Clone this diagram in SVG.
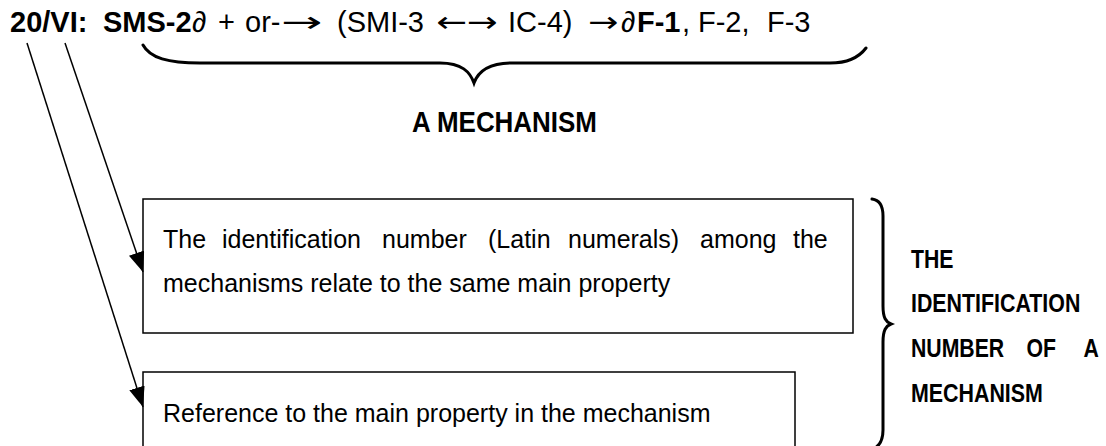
<svg xmlns="http://www.w3.org/2000/svg" width="1106" height="446" viewBox="0 0 1106 446">
<style>
.t{font-family:"Liberation Sans",Arial,sans-serif;fill:#000}
.ar{font-family:"DejaVu Sans",sans-serif;fill:#000;font-size:29px}
.b{font-weight:bold}
.box{fill:#fff;stroke:#000;stroke-width:1.5}
.br{fill:none;stroke:#000;stroke-width:3;stroke-linecap:round}
.ln{fill:none;stroke:#000;stroke-width:1.5}
</style>
<defs>
<marker id="ah" markerUnits="userSpaceOnUse" markerWidth="22" markerHeight="18" refX="20" refY="8" orient="auto">
<path d="M0,0 L20,8 L0,16 Z" fill="#000"/>
</marker>
</defs>
<rect width="1106" height="446" fill="#fff"/>
<g id="formula">
<text class="t" font-size="29" y="32"><tspan class="b" x="10">20/VI:</tspan><tspan class="b" x="103">SMS-2</tspan><tspan x="192">∂</tspan><tspan x="218">+</tspan><tspan x="245">or-</tspan><tspan x="337">(SMI-3</tspan><tspan x="508">IC-4)</tspan><tspan x="621">∂</tspan><tspan class="b" x="637">F-1</tspan><tspan x="682">,</tspan><tspan x="698">F-2,</tspan><tspan x="767">F-3</tspan></text>
<text class="ar" transform="translate(281,32) scale(1.7,1)">→</text>
<text class="ar" transform="translate(436,32) scale(1.27,1)">←→</text>
<text class="ar" transform="translate(588,32) scale(1.25,1)">→</text>
</g>
<g id="brace-top">
<path class="br" d="M143,45 C150,58 168,63 200,63 L440,63 C462,63 470,72 474,83 C478,72 488,63 512,63 L830,63 C850,63 860,56 866,48"/>
</g>
<g id="mechanism-label">
<text class="t b" font-size="29" transform="translate(412,132) scale(0.895,1)">A MECHANISM</text>
</g>
<g id="box1">
<rect class="box" x="143" y="199" width="710" height="134"/>
<text class="t" font-size="25" y="248"><tspan x="163">The</tspan><tspan x="222">identification</tspan><tspan x="382">number</tspan><tspan x="488">(Latin</tspan><tspan x="568">numerals)</tspan><tspan x="700">among</tspan><tspan x="793">the</tspan></text>
<text class="t" font-size="25" x="163" y="292">mechanisms relate to the same main property</text>
</g>
<g id="box2">
<rect class="box" x="143" y="372" width="652" height="90"/>
<text class="t" font-size="25" x="163" y="422">Reference to the main property in the mechanism</text>
</g>
<g id="brace-right">
<path class="br" d="M872,199 C880,200 883,206 883,216 L883,306 C883,318 886,322 891,324 C886,326 883,330 883,342 L883,430 C883,440 880,445 875,448"/>
</g>
<g id="id-label" class="t b" font-size="25">
<text transform="translate(911,268) scale(0.85,1)">THE</text>
<text transform="translate(911,312) scale(0.855,1)">IDENTIFICATION</text>
<text transform="translate(911,357) scale(0.85,1)"><tspan x="0">NUMBER</tspan><tspan x="136">OF</tspan><tspan x="203">A</tspan></text>
<text transform="translate(911,402) scale(0.856,1)">MECHANISM</text>
</g>
<g id="connectors">
<line class="ln" x1="27" y1="43" x2="143" y2="407" marker-end="url(#ah)"/>
<line class="ln" x1="65" y1="43" x2="143" y2="272" marker-end="url(#ah)"/>
</g>
</svg>
